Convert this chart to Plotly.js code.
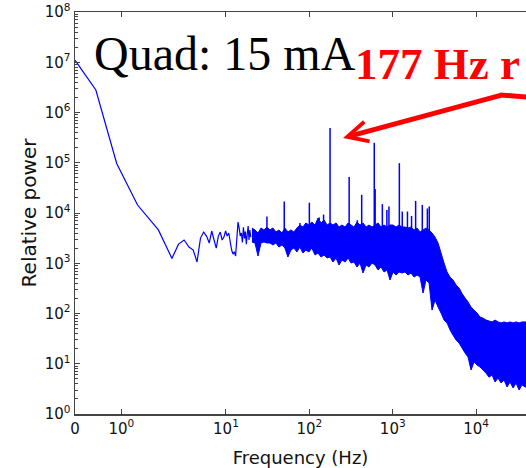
<!DOCTYPE html>
<html>
<head>
<meta charset="utf-8">
<script src="https://cdn.plot.ly/plotly-3.0.1.min.js"></script>
<style>html,body{margin:0;padding:0;background:#fff;}#chart{width:526px;height:468px;}</style>
</head>
<body>
<div id="chart"></div>
<script>
// ---- Data ----
// Low-frequency spectrum bins (Hz) and relative power
const lowFreq = [0, 0.45, 0.9, 1.35, 1.8, 2.25, 2.7, 3.15, 3.6, 4.05, 4.5, 4.95, 5.4, 5.85, 6.3, 6.75, 7.2, 7.65, 8.1, 8.55, 9.0, 9.45, 9.9, 10.35, 10.8, 11.25, 11.7, 12.15, 12.6, 13.05, 13.5, 13.95, 14.4, 14.85, 15.3, 15.75, 16.2, 16.65, 17.1, 17.55, 18.0, 18.45, 18.9, 19.35, 19.8];
const lowPower = [1.1e7, 2.8e6, 9.7e4, 1.44e4, 4600, 1250, 2400, 2900, 2100, 1830, 1060, 3170, 4170, 3470, 2520, 4380, 2900, 2000, 3470, 4170, 2900, 3310, 4380, 3470, 4000, 2650, 1830, 1520, 1700, 1390, 2900, 6600, 5000, 3470, 4000, 2600, 5200, 3100, 4300, 2400, 3800, 5500, 2900, 4600, 3300];

// Dense noise band (Hz) with its upper and lower envelope of relative power
const bandFreq = [20.5, 22.3, 24.2, 26.3, 28.5, 31.0, 33.7, 36.6, 39.7, 43.2, 46.9, 50.9, 55.3, 60.1, 65.3, 70.9, 77.0, 83.7, 90.9, 98.8, 107, 117, 127, 138, 150, 163, 177, 192, 209, 227, 246, 268, 291, 316, 343, 373, 405, 440, 478, 519, 564, 613, 666, 723, 786, 854, 927, 1007, 1095, 1189, 1292, 1403, 1525, 1656, 1799, 1955, 2124, 2307, 2506, 2723, 2958, 3214, 3491, 3793, 4120, 4476, 4863, 5283, 5739, 6235, 6774, 7359, 7994, 8685, 9435, 10250, 11136, 12097, 13142, 14277, 15511, 16851, 18306, 19887, 21605, 23472, 25499, 27702, 30095, 32694, 35518, 38586, 41919];
const bandUpper = [5030, 4590, 3990, 5030, 4590, 5260, 4590, 5030, 4190, 4590, 4000, 5030, 4190, 4590, 4190, 5030, 5770, 5260, 6330, 5770, 6620, 5770, 7950, 6330, 7260, 5770, 6330, 5770, 6330, 5260, 5770, 5260, 6330, 5770, 5260, 6620, 5770, 6330, 5260, 5770, 5260, 5770, 6330, 5260, 5770, 5260, 5770, 5770, 5260, 5770, 5260, 5260, 5030, 5260, 4590, 5030, 4190, 4590, 5030, 4590, 4000, 3320, 2530, 1600, 1010, 670, 530, 464, 370, 322, 250, 203, 170, 134, 117, 102, 85, 81, 74, 71, 68, 74, 68, 65, 68, 65, 68, 65, 68, 65, 68, 68, 68];
const bandLower = [2650, 2530, 1394, 2530, 2650, 2530, 2530, 2310, 2530, 2100, 2310, 2010, 1330, 1835, 2010, 1675, 2100, 1600, 1835, 1675, 2010, 1460, 1600, 1330, 1460, 1272, 1330, 1059, 1272, 920, 1161, 1059, 1272, 1010, 1059, 842, 1010, 640, 920, 842, 1010, 920, 734, 842, 670, 734, 464, 670, 583, 670, 640, 670, 583, 640, 531, 583, 531, 255, 464, 405, 117, 186, 134, 102, 74, 65, 47, 37, 29.7, 25.9, 20.6, 16.4, 13.6, 7.5, 10.9, 9.4, 8.6, 7.5, 6.5, 5.4, 6.0, 4.33, 5.2, 4.14, 4.75, 3.45, 4.33, 3.29, 4.14, 3.0, 3.78, 3.45, 3.45];

// Narrow spectral lines (Hz) and their peak power
const spikeFreq = [31, 50, 77, 100, 131, 148, 177, 300, 376, 424, 600, 615, 750, 850, 900, 1200, 1300, 1500, 1680, 1880, 2260, 2600, 2740];
const spikePeak = [8500, 1.7e4, 6300, 1.6e4, 8100, 9300, 4.9e5, 5.2e4, 7200, 2.3e4, 2.5e5, 3.0e4, 1.5e4, 1.15e4, 1.35e4, 9.8e4, 1.07e4, 1.07e4, 8700, 1.74e4, 1.45e4, 1.23e4, 1.35e4];
const spikeBase = 3000;

// Axis ticks
const xTickFreqs = [0, 1, 10, 100, 1000, 10000];
const xTickLabels = ['0', '10<sup>0</sup>', '10<sup>1</sup>', '10<sup>2</sup>', '10<sup>3</sup>', '10<sup>4</sup>'];
const yTickVals = [1, 10, 100, 1e3, 1e4, 1e5, 1e6, 1e7, 1e8];
const yTickLabels = ['10<sup>0</sup>', '10<sup>1</sup>', '10<sup>2</sup>', '10<sup>3</sup>', '10<sup>4</sup>', '10<sup>5</sup>', '10<sup>6</sup>', '10<sup>7</sup>', '10<sup>8</sup>'];

// ---- symmetric-log x scale (linear below 2 Hz, log above) ----
const LINTHRESH = 2, LINSCALE = 1 / (1 - 1 / 10);
function symlog(f) {
  return f <= LINTHRESH ? (f / LINTHRESH) * LINSCALE : LINSCALE + Math.log10(f / LINTHRESH);
}

const BLUE = '#0000ff';
const RED = '#ff0000';

const lowTrace = {
  x: lowFreq.map(symlog), y: lowPower, type: 'scatter', mode: 'lines',
  line: {color: BLUE, width: 1.2}, hoverinfo: 'skip'
};

const bandLowerTrace = {
  x: bandFreq.map(symlog), y: bandLower, type: 'scatter', mode: 'lines',
  line: {color: BLUE, width: 1, simplify: false}, hoverinfo: 'skip'
};
const bandUpperTrace = {
  x: bandFreq.map(symlog), y: bandUpper, type: 'scatter', mode: 'lines', fill: 'tonexty',
  fillcolor: BLUE, line: {color: BLUE, width: 1, simplify: false}, hoverinfo: 'skip'
};

const sx = [], sy = [];
spikeFreq.forEach((f, i) => { sx.push(symlog(f), symlog(f), null); sy.push(spikeBase, spikePeak[i], null); });
const spikeTrace = {
  x: sx, y: sy, type: 'scatter', mode: 'lines',
  line: {color: BLUE, width: 1.5}, hoverinfo: 'skip'
};

const plotW = 451, pxPerDecade = 83.4;
const xMax = plotW / pxPerDecade;

const axisColor = '#444';
const tickFont = {family: 'DejaVu Sans', size: 15, color: '#111'};

const layout = {
  width: 526, height: 468,
  margin: {l: 75, r: 0, t: 12, b: 54, pad: 0},
  paper_bgcolor: '#fff', plot_bgcolor: '#fff',
  showlegend: false,
  xaxis: {
    range: [0, xMax], type: 'linear',
    tickmode: 'array', tickvals: xTickFreqs.map(symlog), ticktext: xTickLabels,
    ticks: 'inside', ticklen: 5, tickwidth: 1, tickcolor: axisColor,
    showline: true, linecolor: axisColor, linewidth: 1.5, mirror: 'ticks',
    showgrid: false, zeroline: false,
    tickfont: tickFont,
    title: {text: 'Frequency (Hz)', font: {family: 'DejaVu Sans', size: 18, color: '#111'}, standoff: 15},
    automargin: false
  },
  yaxis: {
    type: 'log', range: [0, 8],
    tickmode: 'array', tickvals: yTickVals, ticktext: yTickLabels,
    ticks: 'inside', ticklen: 5, tickwidth: 1, tickcolor: axisColor,
    minor: {ticks: 'inside', ticklen: 2.5, tickcolor: axisColor, dtick: 'D1', showgrid: false},
    showline: true, linecolor: axisColor, linewidth: 1.5,
    showgrid: false, zeroline: false,
    tickfont: tickFont,
    title: {text: 'Relative power', font: {family: 'DejaVu Sans', size: 20, color: '#111'}, standoff: 2},
    automargin: false
  },
  annotations: [
    {
      xref: 'paper', yref: 'paper', x: (92 - 75) / 451, y: (414 - 53) / 402,
      xanchor: 'left', yanchor: 'middle', showarrow: false,
      text: 'Quad: 15 mA',
      font: {family: 'Liberation Serif', size: 48, color: '#000'}
    },
    {
      xref: 'paper', yref: 'paper', x: (353 - 75) / 451, y: (414 - 64) / 402,
      xanchor: 'left', yanchor: 'middle', showarrow: false,
      text: '<b>177 Hz r</b>',
      font: {family: 'Liberation Serif', size: 45, color: RED}
    },
    {
      xref: 'paper', yref: 'paper', x: (343 - 75) / 451, y: (414 - 138) / 402,
      showarrow: true, axref: 'pixel', ayref: 'pixel', ax: 159, ay: -43,
      arrowcolor: RED, arrowwidth: 5, arrowhead: 5, arrowsize: 0.8, text: ''
    }
  ],
  shapes: [
    {
      type: 'line', xref: 'paper', yref: 'paper',
      x0: (500 - 75) / 451, y0: (414 - 95) / 402, x1: (540 - 75) / 451, y1: (414 - 98) / 402,
      line: {color: RED, width: 5}
    }
  ]
};

Plotly.newPlot('chart', [lowTrace, bandLowerTrace, bandUpperTrace, spikeTrace], layout, {staticPlot: true, displayModeBar: false});
</script>
</body>
</html>
